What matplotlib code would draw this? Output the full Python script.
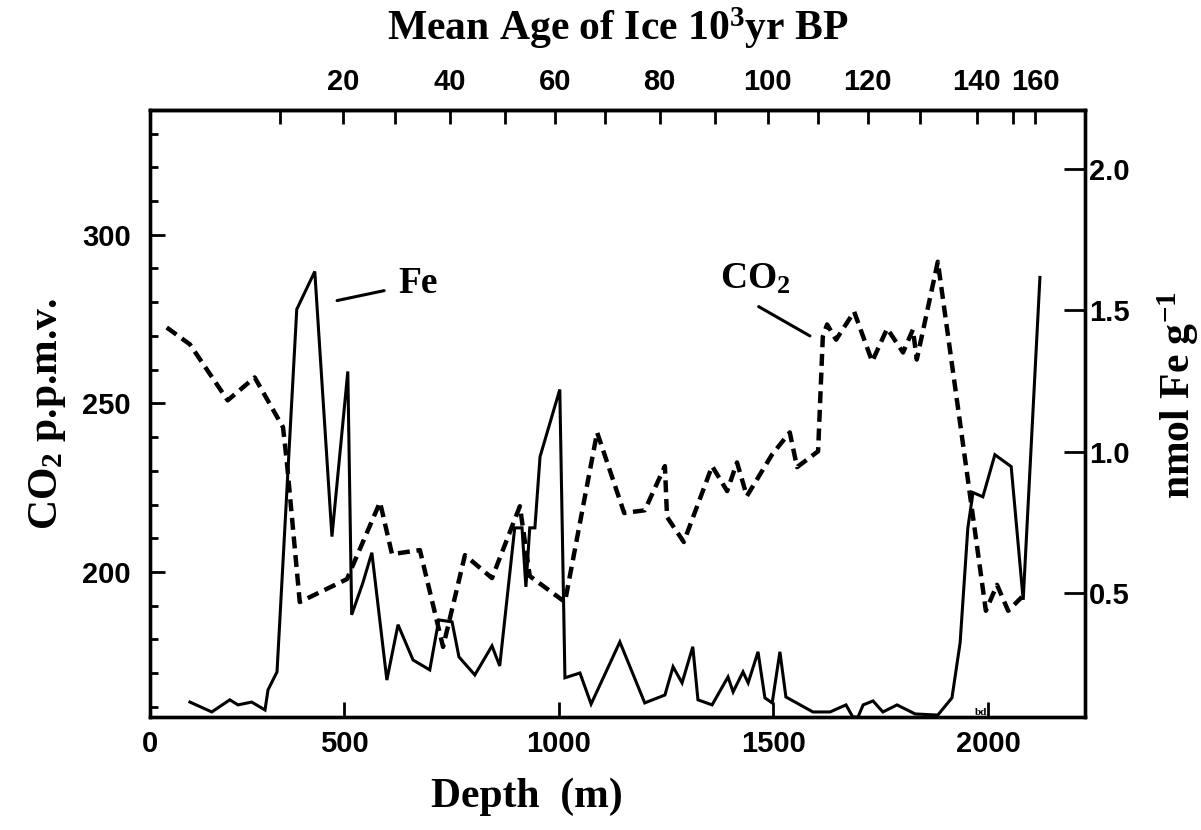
import matplotlib
matplotlib.use("Agg")
import matplotlib.pyplot as plt
from matplotlib.ticker import MultipleLocator, FixedLocator, NullFormatter

plt.rcParams["mathtext.fontset"] = "custom"
plt.rcParams["mathtext.bf"] = "Liberation Serif:bold"
plt.rcParams["mathtext.rm"] = "Liberation Serif:bold"
plt.rcParams["mathtext.it"] = "Liberation Serif:bold"

# CO2 record (depth m, p.p.m.v.)
co2_depth = [86, 140, 228, 291, 357, 366, 396, 506, 583, 611, 676, 730, 781, 844,
             909, 932, 1014, 1089, 1152, 1200, 1247, 1252, 1291, 1357, 1392, 1415,
             1438, 1497, 1538, 1555, 1604, 1615, 1625, 1646, 1688, 1730, 1765, 1802,
             1825, 1834, 1883, 1953, 1995, 2021, 2047, 2079]
co2_ppm = [272.5, 267.5, 250.9, 257.7, 242.9, 232.5, 191.1, 197.9, 220.7, 205.3,
           206.5, 177.8, 205.0, 198.2, 219.5, 198.8, 191.1, 241.4, 217.5, 218.3,
           231.4, 216.3, 208.9, 231.4, 224.0, 232.5, 222.5, 234.9, 241.4, 231.1,
           235.8, 269.8, 273.4, 268.9, 277.2, 262.4, 272.2, 265.1, 271.9, 263.0,
           292.0, 227.5, 188.5, 196.2, 188.5, 192.6]

# Fe record (depth m, nmol Fe g-1)
fe_depth = [140, 191, 233, 252, 284, 315, 322, 343, 389, 431, 471, 508, 517, 543,
            564, 599, 625, 660, 699, 720, 751, 767, 804, 844, 862, 897, 914, 923,
            932, 944, 956, 1002, 1014, 1049, 1075, 1142, 1200, 1247, 1266, 1287,
            1312, 1324, 1357, 1394, 1406, 1429, 1441, 1464, 1480, 1497, 1515, 1529,
            1592, 1632, 1669, 1685, 1697, 1709, 1732, 1755, 1788, 1830, 1883, 1916,
            1935, 1953, 1965, 1988, 2016, 2054, 2082, 2121]
fe_conc = [0.113, 0.078, 0.121, 0.103, 0.113, 0.085, 0.156, 0.220, 1.504, 1.638,
           0.699, 1.284, 0.422, 0.535, 0.642, 0.191, 0.387, 0.262, 0.227, 0.404,
           0.397, 0.273, 0.209, 0.312, 0.241, 0.730, 0.730, 0.521, 0.730, 0.730,
           0.982, 1.220, 0.199, 0.216, 0.106, 0.326, 0.110, 0.138, 0.238, 0.181,
           0.309, 0.121, 0.103, 0.202, 0.149, 0.220, 0.181, 0.291, 0.128, 0.110,
           0.291, 0.131, 0.078, 0.078, 0.103, 0.060, 0.060, 0.103, 0.117, 0.078,
           0.103, 0.071, 0.067, 0.128, 0.323, 0.730, 0.855, 0.840, 0.989, 0.947,
           0.475, 1.617]

# top axis: ice age (10^3 yr BP) and the depth where each tick sits
age_ticks = [10, 20, 30, 40, 50, 60, 70, 80, 90, 100, 110, 120, 130, 140, 150, 160]
age_depth = [350, 497, 618, 746, 874, 991, 1107, 1235, 1364, 1487, 1604, 1720,
             1841, 1974, 2058, 2110]
age_labelled = [20, 40, 60, 80, 100, 120, 140, 160]

depth_ticks = [500, 1000, 1500, 2000]
fe_ticks = [0.5, 1.0, 1.5, 2.0]
co2_ticks = [200, 250, 300]

serif = "Liberation Serif"
sans = "Liberation Sans"
tick_fs = 21
lab_fs = 30
note_fs = 27

fig = plt.figure(figsize=(12.01, 8.30), dpi=100)
ax = fig.add_axes([0.1249, 0.1361, 0.7785, 0.7314])
ax2 = ax.twinx()

x_lo, x_hi = 47, 2226
ax.set_xlim(x_lo, x_hi)
ax.set_ylim(157, 337)
ax2.set_ylim(0.06, 2.21)

ax.plot(co2_depth, co2_ppm, color="black", lw=3.2, linestyle=(0, (2.7, 1.5)))
ax2.plot(fe_depth, fe_conc, color="black", lw=2.2, solid_joinstyle="miter")

for a in (ax, ax2):
    for s in a.spines.values():
        s.set_linewidth(2.4)

# bottom axis
ax.set_xticks([x_lo] + depth_ticks)
ax.set_xticklabels(["0"] + [str(d) for d in depth_ticks])
ax.tick_params(axis="x", direction="in", length=11, width=2, pad=9,
               labelsize=tick_fs)

# left axis
ax.set_yticks(co2_ticks)
ax.yaxis.set_minor_locator(MultipleLocator(10))
ax.tick_params(axis="y", which="major", direction="in", length=11, width=2,
               pad=14, labelsize=tick_fs)
ax.tick_params(axis="y", which="minor", direction="in", length=6, width=2)

# right axis
ax2.set_yticks(fe_ticks)
ax2.set_yticklabels([f"{v:.1f}" for v in fe_ticks])
ax2.tick_params(axis="y", direction="in", length=15, width=2, pad=3,
                labelsize=tick_fs)

# top axis (age)
top = ax.secondary_xaxis("top")
maj = [d for a, d in zip(age_ticks, age_depth) if a in age_labelled]
mnr = [d for a, d in zip(age_ticks, age_depth) if a not in age_labelled]
top.xaxis.set_major_locator(FixedLocator(maj))
top.xaxis.set_minor_locator(FixedLocator(mnr))
top.set_xticklabels([str(a) for a in age_labelled])
top.xaxis.set_minor_formatter(NullFormatter())
top.tick_params(which="both", direction="in", length=10, width=2, pad=10,
                labelsize=tick_fs)
top.spines["top"].set_linewidth(2.4)

for t in ax.get_xticklabels() + ax.get_yticklabels() + ax2.get_yticklabels() \
        + top.get_xticklabels():
    t.set_fontfamily(sans)
    t.set_fontweight("bold")

ax.set_xlabel("Depth  (m)", fontfamily=serif, fontweight="bold", fontsize=lab_fs)
ax.xaxis.set_label_coords(0.403, -0.10)
ax.set_ylabel(r"CO$_\mathbf{2}$ p.p.m.v.", fontfamily=serif, fontweight="bold",
              fontsize=lab_fs)
ax.yaxis.set_label_coords(-0.088, 0.5)
ax2.set_ylabel(r"nmol Fe g$^\mathbf{-1}$", fontfamily=serif, fontweight="bold",
               fontsize=lab_fs, rotation=90)
ax2.yaxis.set_label_coords(1.075, 0.53)
top.set_xlabel(r"Mean Age of Ice 10$^\mathbf{3}$yr BP", fontfamily=serif,
               fontweight="bold", fontsize=lab_fs, labelpad=20)

# curve labels with leader lines
ax2.annotate("Fe", xy=(483, 1.535), xytext=(625, 1.595),
             fontfamily=serif, fontweight="bold", fontsize=note_fs,
             ha="left", va="center",
             arrowprops=dict(arrowstyle="-", lw=2.2, color="black",
                             shrinkA=0, shrinkB=0,
                             relpos=(-0.35, 0.3)))
ax.annotate(r"CO$_\mathbf{2}$", xy=(1585, 270), xytext=(1375, 287),
            fontfamily=serif, fontweight="bold", fontsize=note_fs,
            ha="left", va="center",
            arrowprops=dict(arrowstyle="-", lw=2.2, color="black",
                            shrinkA=0, shrinkB=0, relpos=(0.55, -0.3)))
ax2.text(1985, 0.075, "bd", fontsize=8, fontfamily=serif, fontweight="bold",
         ha="center", va="center")

fig.savefig("out.png", dpi=100)
